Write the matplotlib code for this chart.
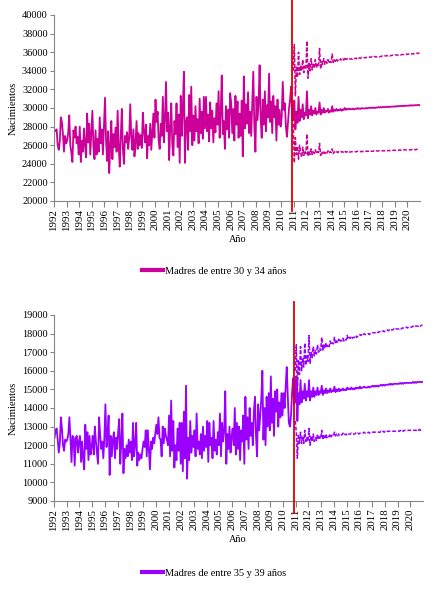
import matplotlib
matplotlib.use("Agg")
import matplotlib.pyplot as plt
import matplotlib.transforms as mtransforms

plt.rcParams['font.family'] = ['Liberation Serif', 'DejaVu Serif']

years = list(range(1992, 2021))

# monthly births, Jan 1992 - Nov 2010 (observed)
hist_30_34 = [
    27600, 27500, 27700, 26000, 25500, 26400, 29000, 28500, 27200, 25300, 27000, 26200,
    26500, 27300, 29200, 26000, 25200, 24200, 27600, 26800, 28000, 26200, 26900, 25000,
    28000, 24200, 26500, 25300, 27800, 26000, 24700, 29400, 26300, 28300, 25000, 27300,
    29700, 25800, 24500, 27600, 25000, 26700, 25300, 29000, 26200, 27700, 25000, 28200,
    31100, 26500, 24300, 27500, 23000, 26000, 28600, 24500, 27200, 25800, 27900, 25300,
    29700, 26000, 23700, 27000, 29900, 25600, 24000, 27000, 26300, 27400, 25600, 26800,
    30400, 26800, 25500, 27700, 24800, 26200, 28600, 25600, 27300, 26000, 27100, 25700,
    29500, 27500, 26300, 28200, 24600, 27000, 26000, 28300, 25500, 27500, 29400, 26800,
    30900, 28500, 29600, 26500, 25600, 28300, 27000, 31200, 26300, 28700, 32800, 27500,
    29500, 24400, 28000, 30500, 26000, 24900, 28600, 27200, 30500, 25800, 29300, 24100,
    31300, 27000, 30000, 33900, 24100, 28500, 29000, 25500, 31400, 27500, 32300, 26000,
    29200, 26500, 30200, 27500, 28800, 26200, 31000, 27300, 29600, 26700, 31200, 27800,
    31200, 27500, 29300, 26400, 30600, 27800, 29700, 26300, 28900, 27400, 30500, 28200,
    31800, 26800, 29500, 33500, 27200, 28600, 25600, 30200, 27700, 29800, 26800, 31600,
    30500, 27300, 29900, 26500, 31300, 28200, 30700, 26800, 29400, 27000, 30800, 24800,
    33400, 27800, 30400, 28300, 31700, 27300, 29600, 27000, 30600, 33900, 28000, 25300,
    31200, 28700, 30500, 34600, 28800, 26800, 30900, 28200, 31800, 27500, 30300, 29000,
    33700, 28500, 30700, 27300, 31300, 29000, 30200, 26500, 30900, 28200, 29800, 28000,
    29000, 32800, 29800, 30500, 28000, 26900, 28500, 30000, 31000, 32300, 28700,
]

hist_35_39 = [
    12400, 12800, 12900, 12300, 11600, 12100, 13500, 12900, 12000, 11700, 12300, 12200,
    12300, 12600, 13500, 12400, 11100, 12500, 12400, 10900, 12400, 12500, 11600, 12200,
    12500, 11100, 12200, 11300, 10700, 13100, 11800, 12700, 11200, 12500, 11500, 11900,
    12500, 11500, 13000, 12200, 11600, 11000, 13500, 12600, 11800, 12200, 11300, 12400,
    14200, 11900, 12500, 13600, 10400, 12500, 11400, 12300, 12700, 11300, 12400, 11800,
    12700, 13400, 11000, 12200, 13700, 10500, 11800, 11300, 12000, 11400, 12300, 11600,
    12200, 11200, 13200, 11400, 12000, 13200, 10900, 11600, 11200, 11500, 11300, 11800,
    12200, 11900, 12800, 11400, 12800, 11700, 10700, 12200, 11800, 12400, 12100, 12600,
    13100, 12600, 13500, 12400, 12300, 11400, 13000, 12100, 12900, 12500, 12300, 12000,
    13600, 11400, 14400, 11700, 13300, 10800, 12000, 11200, 12900, 11700, 13200, 11000,
    13200, 10600, 13800, 11300, 15200, 10200, 12400, 11200, 13300, 11600, 12500, 11900,
    12800, 11400, 13700, 11800, 12200, 11500, 12600, 11300, 13000, 11700, 12500, 11900,
    13300, 11100, 13200, 12000, 12400, 11300, 13300, 11700, 12300, 11500, 12700, 12000,
    13700, 11400, 13200, 12200, 12800, 14900, 11000, 12600, 11800, 13000, 11600, 12500,
    12900, 12000, 14000, 11500, 13200, 11800, 13000, 11200, 12800, 12200, 13600, 11000,
    14600, 12300, 13500, 11800, 14000, 12500, 13200, 12000, 13800, 14600, 12500, 11400,
    14200, 12800, 13600, 14500, 16000, 12300, 14000, 12000, 14600, 13000, 14800, 12800,
    15700, 13200, 14500, 12500, 14900, 13800, 15000, 13000, 14300, 13500, 14800, 13600,
    14800, 14000, 15200, 16200, 14600, 13200, 13000, 13600, 14800, 15600, 14200,
]

# forecast, Dec 2010 - Dec 2020: central value and interval bounds
fc_30_34 = [
    28700,
    30800, 27700, 29600, 28400, 31200, 28600, 29800, 29000, 30400, 28800, 29500, 29200,
    31800, 28900, 29800, 29300, 30200, 29200, 29700, 29400, 30000, 29300, 29600, 29500,
    30600, 29300, 29800, 29500, 30000, 29500, 29700, 29600, 29900, 29500, 29700, 29600,
    30200, 29600, 29800, 29700, 29900, 29700, 29800, 29750, 29900, 29700, 29850, 29800,
    30000, 29800, 29900, 29850, 29950, 29850, 29900, 29850, 29950, 29850, 29900, 29900,
    30000, 29900, 29950, 29900, 30000, 29950, 29950, 29950, 30000, 29950, 30000, 30000,
    30050, 30000, 30050, 30000, 30050, 30000, 30050, 30050, 30100, 30050, 30100, 30050,
    30100, 30100, 30100, 30100, 30150, 30100, 30150, 30100, 30150, 30150, 30150, 30150,
    30200, 30150, 30200, 30200, 30200, 30200, 30250, 30200, 30250, 30200, 30250, 30250,
    30250, 30250, 30300, 30250, 30300, 30250, 30300, 30300, 30300, 30300, 30350, 30300,
]
hi_30_34 = [
    34000,
    36800, 31300, 34500, 33300, 36000, 33600, 34600, 34000, 35200, 33800, 34500, 34200,
    37200, 33200, 34800, 34000, 35300, 34100, 34700, 34400, 35200, 34300, 34700, 34500,
    36400, 34200, 35000, 34700, 35300, 34700, 35000, 34800, 35200, 34800, 35000, 34900,
    35800, 34900, 35200, 35000, 35300, 35050, 35200, 35100, 35300, 35100, 35250, 35150,
    35450, 35200, 35300, 35250, 35350, 35250, 35300, 35250, 35350, 35300, 35350, 35300,
    35450, 35350, 35400, 35350, 35450, 35400, 35400, 35400, 35450, 35400, 35450, 35450,
    35500, 35450, 35500, 35450, 35550, 35500, 35500, 35500, 35550, 35500, 35550, 35550,
    35600, 35550, 35600, 35600, 35650, 35600, 35650, 35600, 35650, 35650, 35700, 35650,
    35700, 35700, 35700, 35700, 35750, 35700, 35750, 35750, 35750, 35750, 35800, 35750,
    35800, 35800, 35850, 35800, 35850, 35800, 35850, 35850, 35900, 35850, 35900, 35900,
]
lo_30_34 = [
    28300,
    24100, 26800, 25000, 25900, 24500, 26000, 25200, 24700, 25800, 24900, 25400, 25100,
    27200, 24800, 25400, 25000, 25600, 25000, 25300, 25100, 25500, 25100, 25300, 25200,
    26200, 24900, 25300, 25100, 25400, 25100, 25300, 25150, 25400, 25150, 25300, 25200,
    25600, 25100, 25300, 25200, 25350, 25200, 25300, 25250, 25350, 25250, 25300, 25250,
    25400, 25250, 25300, 25250, 25350, 25250, 25300, 25300, 25300, 25300, 25300, 25300,
    25350, 25300, 25300, 25300, 25350, 25300, 25350, 25300, 25350, 25350, 25350, 25350,
    25400, 25350, 25350, 25350, 25400, 25350, 25400, 25350, 25400, 25400, 25400, 25400,
    25400, 25400, 25400, 25400, 25450, 25400, 25450, 25400, 25450, 25450, 25450, 25450,
    25450, 25450, 25450, 25450, 25500, 25450, 25500, 25450, 25500, 25500, 25500, 25500,
    25500, 25500, 25500, 25500, 25550, 25500, 25550, 25500, 25550, 25550, 25550, 25550,
]

fc_35_39 = [
    14300,
    15700, 13300, 14800, 14200, 15500, 14300, 14900, 14500, 15300, 14400, 14900, 14600,
    15500, 14400, 14900, 14600, 15100, 14600, 14900, 14700, 15100, 14700, 14900, 14800,
    15200, 14700, 14950, 14800, 15050, 14800, 14950, 14850, 15050, 14850, 14950, 14900,
    15150, 14850, 15000, 14900, 15050, 14900, 15000, 14950, 15050, 14950, 15000, 14950,
    15100, 15000, 15050, 15000, 15100, 15000, 15050, 15000, 15100, 15050, 15100, 15050,
    15150, 15050, 15100, 15100, 15150, 15100, 15100, 15100, 15150, 15100, 15150, 15150,
    15200, 15150, 15200, 15150, 15200, 15150, 15200, 15200, 15250, 15200, 15250, 15200,
    15250, 15250, 15250, 15250, 15300, 15250, 15300, 15250, 15300, 15300, 15300, 15300,
    15300, 15300, 15350, 15300, 15350, 15300, 15350, 15350, 15350, 15350, 15350, 15350,
    15350, 15350, 15400, 15350, 15400, 15350, 15400, 15400, 15400, 15400, 15400, 15400,
]
hi_35_39 = [
    16000,
    17400, 14700, 16600, 15800, 17300, 16000, 16700, 16200, 17500, 16300, 16800, 16500,
    17900, 16400, 17000, 16700, 17300, 16800, 17100, 16900, 17400, 17000, 17200, 17100,
    17800, 17100, 17400, 17200, 17500, 17300, 17400, 17300, 17600, 17400, 17500, 17450,
    17800, 17450, 17600, 17500, 17700, 17550, 17650, 17600, 17750, 17600, 17700, 17650,
    17900, 17700, 17800, 17750, 17850, 17750, 17800, 17800, 17900, 17800, 17850, 17850,
    17950, 17900, 17950, 17900, 18000, 17950, 17950, 17950, 18000, 17950, 18000, 18000,
    18050, 18050, 18050, 18050, 18100, 18050, 18100, 18100, 18100, 18100, 18150, 18100,
    18150, 18150, 18200, 18150, 18200, 18150, 18200, 18200, 18250, 18200, 18250, 18250,
    18250, 18250, 18300, 18250, 18300, 18300, 18300, 18300, 18350, 18300, 18350, 18350,
    18350, 18350, 18400, 18350, 18400, 18400, 18400, 18400, 18450, 18400, 18450, 18450,
]
lo_35_39 = [
    13300,
    12700, 11300, 12600, 12100, 12700, 12100, 12500, 12100, 12800, 12200, 12400, 12200,
    12900, 12000, 12500, 12200, 12600, 12200, 12400, 12250, 12600, 12300, 12450, 12350,
    12800, 12300, 12550, 12400, 12600, 12400, 12500, 12450, 12600, 12450, 12550, 12500,
    12700, 12500, 12600, 12500, 12600, 12550, 12600, 12550, 12650, 12550, 12600, 12550,
    12650, 12600, 12600, 12600, 12650, 12600, 12600, 12600, 12650, 12600, 12650, 12600,
    12650, 12650, 12650, 12650, 12700, 12650, 12650, 12650, 12700, 12650, 12700, 12700,
    12700, 12700, 12700, 12700, 12700, 12700, 12700, 12700, 12750, 12700, 12750, 12700,
    12750, 12700, 12750, 12750, 12750, 12750, 12750, 12750, 12750, 12750, 12750, 12750,
    12750, 12750, 12800, 12750, 12800, 12750, 12800, 12800, 12800, 12800, 12800, 12800,
    12800, 12800, 12800, 12800, 12800, 12800, 12850, 12800, 12850, 12800, 12850, 12850,
]

W, H = 441, 591
fig = plt.figure(figsize=(W / 100, H / 100), dpi=100)

GRAY = '#868686'


def draw_panel(rect, hist, fc, hi, lo, color, ylim, ystep, label, ylab_y, xlab_y, leg_y, red_span):
    ax = fig.add_axes(rect)
    n_hist = len(hist)
    xh = [i + 0.5 for i in range(n_hist)]
    xf = [n_hist + i + 0.5 for i in range(len(fc))]
    line, = ax.plot(xh, hist, color=color, lw=1.3, label=label)
    ax.plot(xf, fc, color=color, lw=1.3)
    ax.plot(xf, hi, color=color, lw=1.1, ls=(0, (2.5, 1.2)))
    ax.plot(xf, lo, color=color, lw=1.1, ls=(0, (2.5, 1.2)))
    xr = n_hist - 0.5
    ax.plot([xr, xr], red_span, color='#E00000', lw=1.3, clip_on=False, zorder=5)

    ax.set_xlim(0, 12 * len(years))
    ax.set_ylim(*ylim)
    ax.set_yticks(range(ylim[0], ylim[1] + 1, ystep))
    ax.set_xticks([12 * k for k in range(len(years))])
    ax.set_xticklabels([str(y) for y in years], rotation=90, fontsize=7.8)
    off = mtransforms.ScaledTranslation(1.5 / 100, 0, fig.dpi_scale_trans)
    for t in ax.get_xticklabels():
        t.set_transform(t.get_transform() + off)
    ax.tick_params(axis='y', labelsize=7.4, length=3, color=GRAY, width=0.8, pad=1.5)
    ax.tick_params(axis='x', length=4, color=GRAY, width=0.8, pad=1.5)
    for s in ('top', 'right'):
        ax.spines[s].set_visible(False)
    for s in ('left', 'bottom'):
        ax.spines[s].set_color(GRAY)
        ax.spines[s].set_linewidth(0.8)

    fig.text(13 / W, 1 - ylab_y / H, 'Nacimientos', rotation=90, ha='center', va='center', fontsize=7.6)
    fig.text(238 / W, 1 - xlab_y / H, 'Año', ha='center', va='center', fontsize=7.4)
    fig.legend(handles=[line], loc='center', bbox_to_anchor=(214 / W, 1 - leg_y / H),
               frameon=False, fontsize=7.4, handlelength=2.0, handletextpad=0.2)
    line_leg = fig.legends[-1].get_lines()[0]
    line_leg.set_linewidth(3)
    return ax


draw_panel([54 / W, 1 - 201 / H, 366 / W, 186 / H], hist_30_34, fc_30_34, hi_30_34, lo_30_34,
           '#CC0099', (20000, 40000), 2000, 'Madres de entre 30 y 34 años',
           108, 240, 271, [41600, 18900])
draw_panel([54 / W, 1 - 501 / H, 369 / W, 186 / H], hist_35_39, fc_35_39, hi_35_39, lo_35_39,
           '#9900FF', (9000, 19000), 1000, 'Madres de entre 35 y 39 años',
           408, 540, 573, [19700, 8350])

fig.savefig('out.png', dpi=100)
